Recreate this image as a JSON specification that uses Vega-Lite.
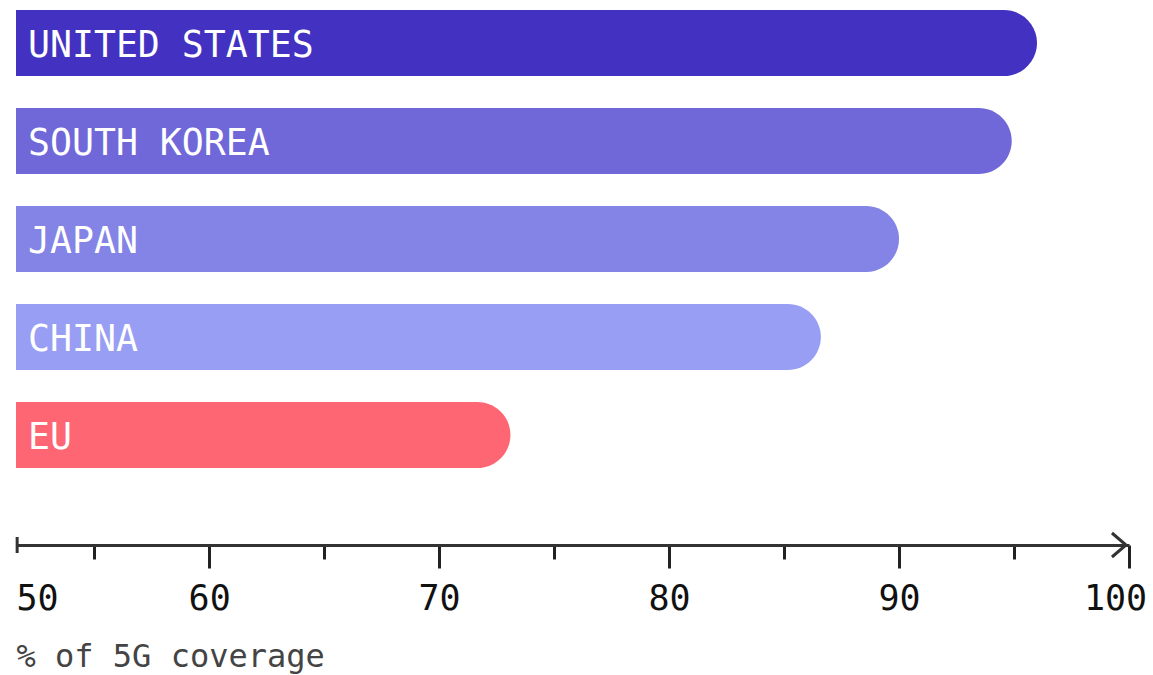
{
  "$schema": "https://vega.github.io/schema/vega-lite/v6.json",
  "width": 1113,
  "height": 458,
  "autosize": {"type": "none"},
  "padding": {"left": 16, "top": 10, "right": 24, "bottom": 207},
  "background": "white",
  "config": {
    "view": {"stroke": null},
    "font": "DejaVu Sans Mono"
  },
  "data": {
    "values": [
      {"country": "UNITED STATES", "coverage": 96.0},
      {"country": "SOUTH KOREA", "coverage": 94.9},
      {"country": "JAPAN", "coverage": 90.0},
      {"country": "CHINA", "coverage": 86.6},
      {"country": "EU", "coverage": 73.1}
    ]
  },
  "layer": [
    {
      "mark": {"type": "bar", "cornerRadiusTopRight": 33, "cornerRadiusBottomRight": 33},
      "encoding": {
        "y": {
          "field": "country",
          "type": "nominal",
          "sort": null,
          "axis": null,
          "scale": {"paddingInner": 0.3265, "paddingOuter": 0}
        },
        "x": {
          "field": "coverage",
          "type": "quantitative",
          "scale": {"domain": [51.6, 100], "nice": false, "zero": false},
          "axis": {
            "values": [51.6, 55, 60, 65, 70, 75, 80, 85, 90, 95, 100],
            "labelExpr": "datum.value < 52 ? '50' : (datum.value % 10 === 0 ? datum.label : '')",
            "offset": 77,
            "grid": false,
            "domainColor": "#333333",
            "domainWidth": 3,
            "tickColor": "#222222",
            "tickWidth": 3,
            "tickOpacity": {
              "condition": {"test": "datum.value < 52", "value": 0},
              "value": 1
            },
            "tickSize": {
              "condition": [
                {"test": "datum.value < 52", "value": 23},
                {"test": "datum.value % 10 === 0", "value": 23}
              ],
              "value": 14
            },
            "labelFlush": false,
            "labelAlign": {
              "condition": {"test": "datum.value < 52", "value": "left"},
              "value": "center"
            },
            "labelOffset": {
              "condition": {"test": "datum.value > 99", "value": -14},
              "value": 0
            },
            "labelFont": "DejaVu Sans Mono",
            "labelFontSize": 35,
            "labelColor": "#111111",
            "labelPadding": 13,
            "title": "% of 5G coverage",
            "titleFont": "DejaVu Sans Mono",
            "titleFontSize": 32,
            "titleFontWeight": "normal",
            "titleColor": "#444444",
            "titleAnchor": "start",
            "titleAlign": "left",
            "titlePadding": 25
          }
        },
        "x2": {"datum": 51.6},
        "color": {
          "field": "country",
          "type": "nominal",
          "legend": null,
          "scale": {
            "domain": ["UNITED STATES", "SOUTH KOREA", "JAPAN", "CHINA", "EU"],
            "range": ["#4332c2", "#7068d9", "#8384e6", "#989ef3", "#ff6673"]
          }
        }
      }
    },
    {
      "mark": {
        "type": "text",
        "align": "left",
        "baseline": "middle",
        "dx": 12,
        "dy": 3,
        "fontSize": 36.5,
        "font": "DejaVu Sans Mono",
        "color": "white"
      },
      "encoding": {
        "y": {"field": "country", "type": "nominal", "sort": null},
        "x": {"datum": 51.6},
        "text": {"field": "country", "type": "nominal"}
      }
    },
    {
      "data": {"values": [{"end": 100}]},
      "mark": {
        "type": "point",
        "shape": "M-1.42,-1L-0.25,0L-1.42,1",
        "filled": false,
        "size": 576,
        "stroke": "#333333",
        "strokeWidth": 3,
        "opacity": 1
      },
      "encoding": {
        "x": {"field": "end", "type": "quantitative"},
        "y": {"value": {"expr": "height + 77"}}
      }
    },
    {
      "data": {"values": [{"start": 51.65}]},
      "mark": {"type": "rule", "stroke": "#333333", "strokeWidth": 3},
      "encoding": {
        "x": {"field": "start", "type": "quantitative"},
        "y": {"value": {"expr": "height + 69"}},
        "y2": {"value": {"expr": "height + 85"}}
      }
    }
  ]
}
